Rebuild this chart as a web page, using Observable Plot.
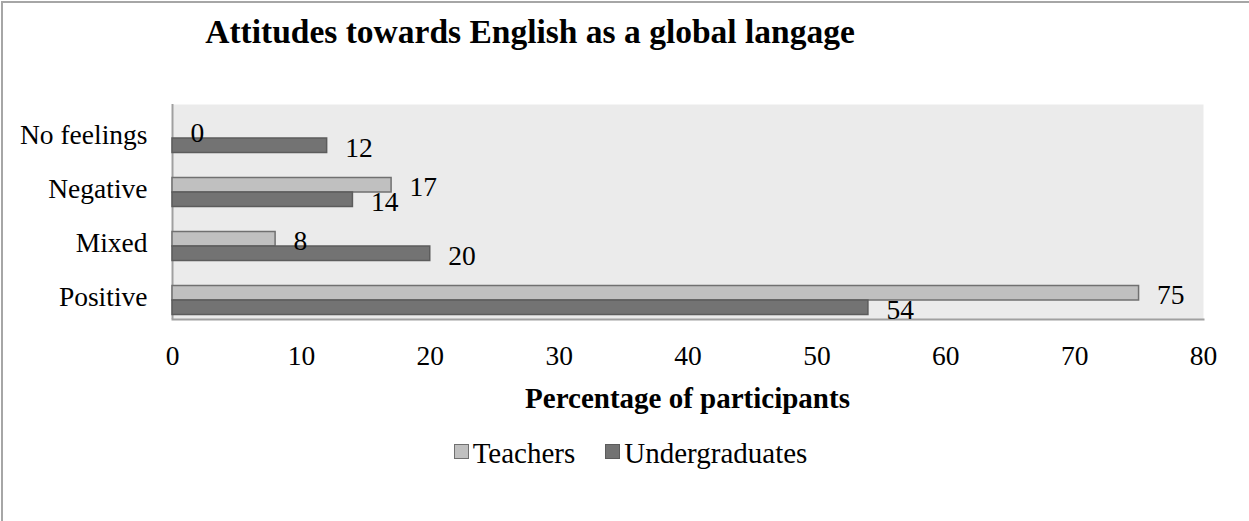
<!DOCTYPE html>
<html>
<head>
<meta charset="utf-8">
<script src="https://cdn.jsdelivr.net/npm/d3@7"></script>
<script src="https://cdn.jsdelivr.net/npm/@observablehq/plot@0.6"></script>
<style>
  html, body { margin: 0; padding: 0; background: #fff; }
  #wrap { position: relative; width: 1249px; height: 521px; overflow: hidden; font-family: "Liberation Serif", serif; color: #000; }
  #border { position: absolute; left: 1px; top: 1px; width: 1250px; height: 540px; border-left: 2px solid #a6a6a6; border-top: 2px solid #a6a6a6; box-sizing: border-box; }
  #chart { position: absolute; left: 0; top: 0; }
  #title { position: absolute; left: 0; width: 1060px; text-align: center; top: 12px; font-weight: bold; font-size: 33.5px; line-height: 40px; white-space: nowrap; }
  #xtitle { position: absolute; left: 172px; width: 1031px; text-align: center; top: 380px; font-weight: bold; font-size: 29px; line-height: 36px; white-space: nowrap; }
  #legend { position: absolute; left: 0; width: 1249px; top: 435px; display: flex; justify-content: center; font-size: 29px; line-height: 36px; padding-left: 12px; box-sizing: border-box; }
  .item { display: flex; align-items: center; margin: 0 15px; }
  .sw { width: 13px; height: 13px; border: 1.5px solid #6e6e6e; margin-right: 4px; margin-top: -3px; }
</style>
</head>
<body>
<div id="wrap">
  <div id="border"></div>
  <div id="chart"></div>
  <div id="title"></div>
  <div id="xtitle"></div>
  <div id="legend"></div>
</div>
<script>
const titleText = "Attitudes towards English as a global langage";
const xAxisTitle = "Percentage of participants";
const categories = ["No feelings", "Negative", "Mixed", "Positive"];
const seriesNames = ["Teachers", "Undergraduates"];
const teachers = [0, 17, 8, 75];
const undergraduates = [12, 14, 20, 54];
const xTicks = [0, 10, 20, 30, 40, 50, 60, 70, 80];
const seriesFill = ["#c0c0c0", "#737373"];
const seriesStroke = ["#707070", "#5c5c5c"];

const tRows = categories.map((c, i) => ({category: c, series: seriesNames[0], value: teachers[i]}));
const uRows = categories.map((c, i) => ({category: c, series: seriesNames[1], value: undergraduates[i]}));

const chart = Plot.plot({
  width: 1249,
  height: 521,
  marginLeft: 172,
  marginRight: 46,
  marginTop: 104,
  marginBottom: 202,
  style: {fontFamily: "Liberation Serif", fontSize: "27.5px", color: "#000", background: "transparent"},
  x: {domain: [0, 80], ticks: xTicks},
  y: {type: "band", domain: categories, range: [111, 327], padding: 0},
  marks: [
    Plot.frame({fill: "#ebebeb", stroke: null}),
    Plot.ruleX([0], {stroke: "#a0a0a0", strokeWidth: 2}),
    Plot.frame({anchor: "bottom", stroke: "#a0a0a0", strokeWidth: 2}),
    Plot.barX(tRows, {x: "value", y: "category", fill: seriesFill[0], stroke: seriesStroke[0], strokeWidth: 1.5, insetTop: 12.5, insetBottom: 27}),
    Plot.barX(uRows, {x: "value", y: "category", fill: seriesFill[1], stroke: seriesStroke[1], strokeWidth: 1.5, insetTop: 27, insetBottom: 12.5}),
    Plot.text(tRows, {x: "value", y: "category", text: d => String(d.value), textAnchor: "start", dx: 18, dy: -5, fill: "#000"}),
    Plot.text(uRows, {x: "value", y: "category", text: d => String(d.value), textAnchor: "start", dx: 18, dy: 10, fill: "#000"}),
    Plot.axisX({ticks: xTicks, tickSize: 0, tickPadding: 26, fill: "#000", label: null}),
    Plot.axisY({tickSize: 0, tickPadding: 25, fill: "#000", label: null, dy: -3})
  ]
});
document.getElementById("chart").appendChild(chart);
document.getElementById("title").textContent = titleText;
document.getElementById("xtitle").textContent = xAxisTitle;
const legend = document.getElementById("legend");
seriesNames.forEach((name, i) => {
  const item = document.createElement("div");
  item.className = "item";
  const sw = document.createElement("div");
  sw.className = "sw";
  sw.style.background = seriesFill[i];
  sw.style.borderColor = seriesStroke[i];
  const label = document.createElement("span");
  label.textContent = name;
  item.appendChild(sw);
  item.appendChild(label);
  legend.appendChild(item);
});
</script>
</body>
</html>
